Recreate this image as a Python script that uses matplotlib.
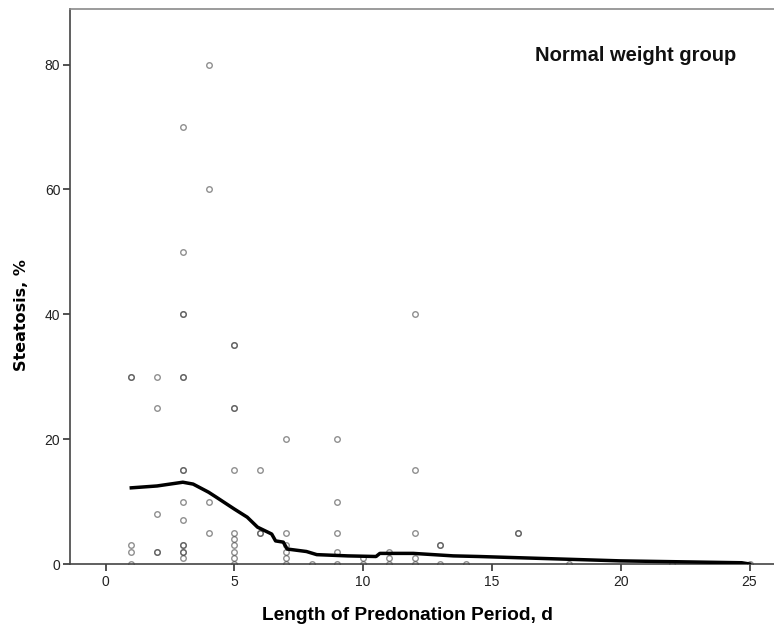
import matplotlib.pyplot as plt
import numpy as np

# days before donation vs steatosis (repeated entries = overlapping cases)
predon_days = [1, 1, 1, 1, 1,
               2, 2, 2, 2, 2,
               3, 3, 3, 3, 3, 3, 3, 3, 3, 3, 3, 3, 3, 3, 3,
               4, 4, 4, 4,
               5, 5, 5, 5, 5, 5, 5, 5, 5, 5, 5,
               6, 6, 6,
               7, 7, 7, 7, 7, 7,
               8,
               9, 9, 9, 9, 9,
               10, 10,
               11, 11, 11,
               12, 12, 12, 12, 12,
               13, 13, 13,
               14, 16, 16, 18, 22, 25]
steatosis = [30, 30, 3, 2, 0,
             30, 25, 8, 2, 2,
             70, 50, 40, 40, 30, 30, 15, 15, 10, 7, 3, 3, 2, 2, 1,
             80, 60, 10, 5,
             35, 35, 25, 25, 15, 5, 4, 3, 2, 1, 0,
             15, 5, 5,
             20, 5, 3, 2, 1, 0,
             0,
             20, 10, 5, 2, 0,
             1, 0,
             2, 1, 0,
             40, 15, 5, 1, 0,
             3, 3, 0,
             0, 5, 5, 0, 0, 0]

# loess fit line
fit_x = [1.0, 2.0, 3.0, 3.4, 4.0, 4.3, 5.0, 5.5, 5.9, 6.45, 6.6, 6.9, 7.05,
         7.8, 8.2, 9.4, 10.5, 10.65, 11.95, 13.5, 14.5, 20.0, 24.7, 25.0]
fit_y = [12.2, 12.5, 13.1, 12.8, 11.5, 10.7, 8.8, 7.5, 5.9, 4.8, 3.7, 3.5, 2.4,
         2.0, 1.5, 1.3, 1.2, 1.7, 1.7, 1.3, 1.2, 0.5, 0.2, 0.0]

fig = plt.figure(figsize=(7.74, 6.28), dpi=100)
ax = fig.add_axes([70/774, 64/628, 704/774, 555/628])

ax.plot(predon_days, steatosis, 'o', markersize=4.0, markerfacecolor='none',
        markeredgecolor=(0.27, 0.27, 0.27, 0.6), markeredgewidth=1.0, zorder=3)
ax.plot(fit_x, fit_y, color='black', linewidth=2.5, zorder=4)

ax.set_xlim(-1.38, 25.95)
ax.set_ylim(0, 88.9)
ax.set_xticks([0, 5, 10, 15, 20, 25])
ax.set_yticks([0, 20, 40, 60, 80])

for s in ['left', 'bottom']:
    ax.spines[s].set_color('#444444')
    ax.spines[s].set_linewidth(1.2)
ax.spines['top'].set_color('#8a8a8a')
ax.spines['top'].set_linewidth(1.2)
ax.spines['right'].set_visible(False)

ax.tick_params(direction='out', length=5, width=1.2, color='#333333',
               labelsize=10, labelcolor='#222222')
for lab in ax.get_xticklabels() + ax.get_yticklabels():
    lab.set_family('Liberation Sans')
ax.tick_params(axis='y', pad=2)
ax.tick_params(axis='x', pad=3)

ax.set_xlabel('Length of Predonation Period, d', fontsize=13.8, fontweight='bold',
              family='Liberation Sans')
ax.xaxis.set_label_coords(0.479, -0.078)
ax.set_ylabel('Steatosis, %', fontsize=11.5, fontweight='bold', family='DejaVu Sans')
ax.yaxis.set_label_coords(-0.058, 0.449)

ax.text(0.803, 0.917, 'Normal weight group', transform=ax.transAxes,
        fontsize=14.5, fontweight='bold', family='Liberation Sans',
        ha='center', va='center', color='#111111')

fig.savefig('out.png', dpi=100)
